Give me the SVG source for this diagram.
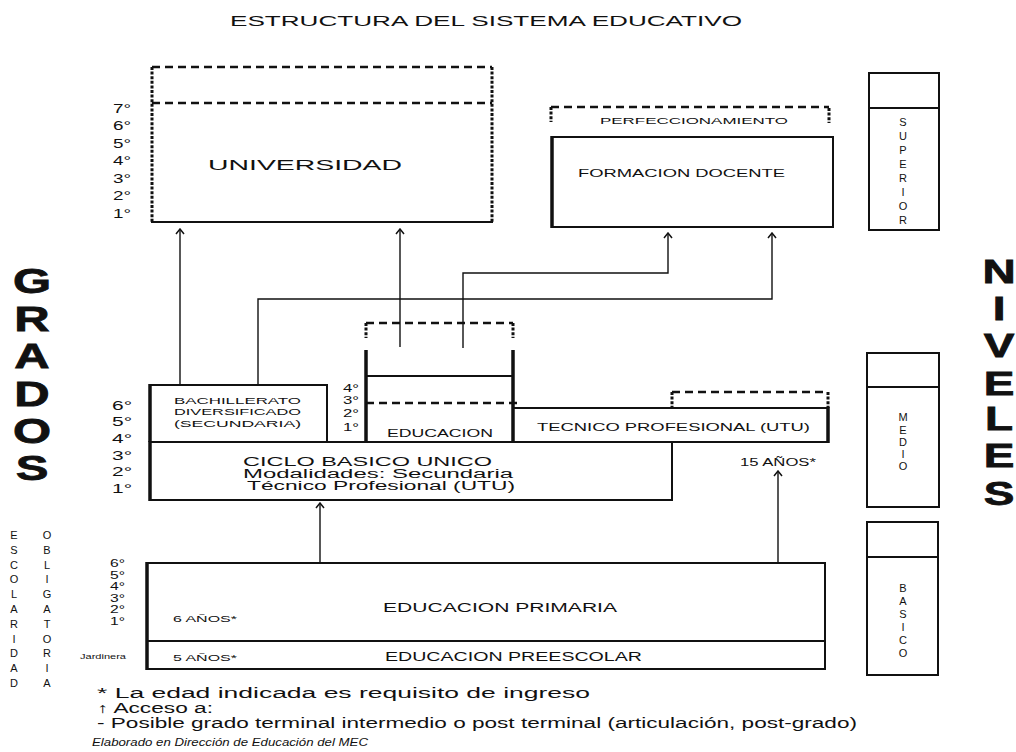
<svg xmlns="http://www.w3.org/2000/svg" width="1016" height="752" viewBox="0 0 1016 752">
<style>
.t{font-family:"Liberation Sans",Arial,sans-serif;fill:#111}
.b{fill:none;stroke:#111;stroke-width:2}
.thick{fill:none;stroke:#111;stroke-width:3.5}
.dash{fill:none;stroke:#111;stroke-width:2.5;stroke-dasharray:8 5}
.dot{fill:none;stroke:#111;stroke-width:3;stroke-dasharray:3 1.6}
.c{fill:none;stroke:#111;stroke-width:1.4}
.g{font-size:13px}
.big{font-family:"Liberation Sans",Arial,sans-serif;font-weight:bold;fill:#111;stroke:#111;stroke-width:0.8;text-anchor:middle}
.v{font-size:11px;text-anchor:middle}
</style>
<defs>
<marker id="ah" markerUnits="userSpaceOnUse" markerWidth="10" markerHeight="10" refX="9" refY="5" orient="auto" viewBox="0 0 10 10">
<path d="M4,1 L9,5 L4,9" fill="none" stroke="#111" stroke-width="1.5"/>
</marker>
</defs>
<rect width="1016" height="752" fill="#fff"/>

<text class="t" x="230" y="26" font-size="14" textLength="512" lengthAdjust="spacingAndGlyphs">ESTRUCTURA DEL SISTEMA EDUCATIVO</text>

<!-- Side labels -->
<g id="grados" transform="translate(32,0) scale(1.4,1)">
<text class="big" font-size="35"><tspan x="0" y="293">G</tspan><tspan x="0" y="331">R</tspan><tspan x="0" y="368">A</tspan><tspan x="0" y="406">D</tspan><tspan x="0" y="443">O</tspan><tspan x="0" y="480">S</tspan></text>
</g>
<g id="niveles" transform="translate(999,0) scale(1.35,1)">
<text class="big" font-size="34"><tspan x="0" y="283">N</tspan><tspan x="0" y="320">I</tspan><tspan x="0" y="357">V</tspan><tspan x="0" y="395">E</tspan><tspan x="0" y="430">L</tspan><tspan x="0" y="467">E</tspan><tspan x="0" y="505">S</tspan></text>
</g>
<g id="escolaridad-obligatoria">
<text class="t" font-size="11" text-anchor="middle"><tspan x="14" y="539">E</tspan><tspan x="14" y="554">S</tspan><tspan x="14" y="569">C</tspan><tspan x="14" y="583">O</tspan><tspan x="14" y="598">L</tspan><tspan x="14" y="613">A</tspan><tspan x="14" y="628">R</tspan><tspan x="14" y="643">I</tspan><tspan x="14" y="657">D</tspan><tspan x="14" y="672">A</tspan><tspan x="14" y="687">D</tspan></text>
<text class="t" font-size="11" text-anchor="middle"><tspan x="47" y="539">O</tspan><tspan x="47" y="554">B</tspan><tspan x="47" y="569">L</tspan><tspan x="47" y="583">I</tspan><tspan x="47" y="598">G</tspan><tspan x="47" y="613">A</tspan><tspan x="47" y="628">T</tspan><tspan x="47" y="643">O</tspan><tspan x="47" y="657">R</tspan><tspan x="47" y="672">I</tspan><tspan x="47" y="687">A</tspan></text>
</g>

<!-- Grade labels -->
<g id="grados-universidad" class="t g">
<text x="113" y="113" textLength="18" lengthAdjust="spacingAndGlyphs">7°</text>
<text x="113" y="130" textLength="18" lengthAdjust="spacingAndGlyphs">6°</text>
<text x="113" y="148" textLength="18" lengthAdjust="spacingAndGlyphs">5°</text>
<text x="113" y="165" textLength="18" lengthAdjust="spacingAndGlyphs">4°</text>
<text x="113" y="183" textLength="18" lengthAdjust="spacingAndGlyphs">3°</text>
<text x="113" y="200" textLength="18" lengthAdjust="spacingAndGlyphs">2°</text>
<text x="113" y="218" textLength="18" lengthAdjust="spacingAndGlyphs">1°</text>
</g>
<g id="grados-medio" class="t g">
<text x="112" y="410" textLength="20" lengthAdjust="spacingAndGlyphs">6°</text>
<text x="112" y="426" textLength="20" lengthAdjust="spacingAndGlyphs">5°</text>
<text x="112" y="443" textLength="20" lengthAdjust="spacingAndGlyphs">4°</text>
<text x="112" y="460" textLength="20" lengthAdjust="spacingAndGlyphs">3°</text>
<text x="112" y="476" textLength="20" lengthAdjust="spacingAndGlyphs">2°</text>
<text x="112" y="493" textLength="20" lengthAdjust="spacingAndGlyphs">1°</text>
</g>
<g id="grados-educacion" class="t" font-size="10">
<text x="343" y="392" textLength="16" lengthAdjust="spacingAndGlyphs">4°</text>
<text x="343" y="404" textLength="16" lengthAdjust="spacingAndGlyphs">3°</text>
<text x="343" y="417" textLength="16" lengthAdjust="spacingAndGlyphs">2°</text>
<text x="343" y="431" textLength="16" lengthAdjust="spacingAndGlyphs">1°</text>
</g>
<g id="grados-primaria" class="t" font-size="10">
<text x="110" y="567" textLength="15" lengthAdjust="spacingAndGlyphs">6°</text>
<text x="110" y="579" textLength="15" lengthAdjust="spacingAndGlyphs">5°</text>
<text x="110" y="590" textLength="15" lengthAdjust="spacingAndGlyphs">4°</text>
<text x="110" y="602" textLength="15" lengthAdjust="spacingAndGlyphs">3°</text>
<text x="110" y="613" textLength="15" lengthAdjust="spacingAndGlyphs">2°</text>
<text x="110" y="625" textLength="15" lengthAdjust="spacingAndGlyphs">1°</text>
<text x="80" y="659" font-size="7" textLength="46" lengthAdjust="spacingAndGlyphs">Jardinera</text>
</g>

<!-- Connectors -->
<g id="connectors">
<path class="c" d="M180,385 V229" marker-end="url(#ah)"/>
<path class="c" d="M400,347 V229" marker-end="url(#ah)"/>
<path class="c" d="M258,385 V299 H772 V233" marker-end="url(#ah)"/>
<path class="c" d="M463,348 V273 H668 V233" marker-end="url(#ah)"/>
<path class="c" d="M320,563 V503" marker-end="url(#ah)"/>
<path class="c" d="M778,563 V471" marker-end="url(#ah)"/>
</g>

<!-- Nodes -->
<g id="universidad">
<path class="dash" d="M152,67 H492"/>
<path class="dash" d="M152,103 H492"/>
<path class="dot" d="M152,67 V222"/>
<path class="dot" d="M492,67 V222"/>
<path class="b" d="M151,222 H493"/>
<text class="t" x="208" y="170" font-size="15" textLength="194" lengthAdjust="spacingAndGlyphs">UNIVERSIDAD</text>
</g>

<g id="perfeccionamiento">
<path class="dash" d="M551,107 H829"/>
<path class="dot" d="M551,107 V122"/>
<path class="dot" d="M829,108 V123"/>
<text class="t" x="600" y="124" font-size="9" textLength="188" lengthAdjust="spacingAndGlyphs">PERFECCIONAMIENTO</text>
</g>

<g id="formacion-docente">
<rect class="b" x="552" y="137" width="281" height="90"/>
<path class="thick" d="M552,136 V228"/>
<text class="t" x="578" y="177" font-size="11" textLength="207" lengthAdjust="spacingAndGlyphs">FORMACION DOCENTE</text>
</g>

<g id="bachillerato">
<rect class="b" x="150" y="385" width="177" height="57"/>
<path class="thick" d="M150,384 V442"/>
<text class="t" x="174" y="404" font-size="9.5" textLength="127" lengthAdjust="spacingAndGlyphs">BACHILLERATO</text>
<text class="t" x="174" y="415" font-size="9.5" textLength="127" lengthAdjust="spacingAndGlyphs">DIVERSIFICADO</text>
<text class="t" x="174" y="427" font-size="9.5" textLength="127" lengthAdjust="spacingAndGlyphs">(SECUNDARIA)</text>
</g>

<g id="educacion">
<path class="dash" d="M366,323 H513"/>
<path class="dot" d="M366,323 V338"/>
<path class="dot" d="M513,323 V338"/>
<path class="thick" d="M366,350 V442"/>
<path class="thick" d="M513,350 V442"/>
<path class="b" d="M366,376 H513"/>
<path class="dash" d="M366,403 H518" stroke-width="2"/>
<text class="t" x="387" y="437" font-size="11" textLength="106" lengthAdjust="spacingAndGlyphs">EDUCACION</text>
</g>

<g id="tecnico-profesional">
<path class="dash" d="M672,392 H828"/>
<path class="dot" d="M672,392 V408"/>
<path class="dot" d="M828,392 V408"/>
<rect class="b" x="513" y="408" width="315" height="34"/>
<path class="thick" d="M828,407 V443"/>
<text class="t" x="537" y="431" font-size="11" textLength="273" lengthAdjust="spacingAndGlyphs">TECNICO PROFESIONAL (UTU)</text>
</g>

<g id="ciclo-basico">
<rect class="b" x="150" y="442" width="522" height="58"/>
<path class="thick" d="M150,441 V501"/>
<text class="t" x="243" y="466" font-size="13" textLength="249" lengthAdjust="spacingAndGlyphs">CICLO BASICO UNICO</text>
<text class="t" x="243" y="478" font-size="12" textLength="270" lengthAdjust="spacingAndGlyphs">Modalidades: Secundaria</text>
<text class="t" x="247" y="490" font-size="12" textLength="268" lengthAdjust="spacingAndGlyphs">Técnico Profesional (UTU)</text>
</g>

<text id="quince-anos" class="t" x="740" y="466" font-size="10" textLength="76" lengthAdjust="spacingAndGlyphs">15 AÑOS*</text>

<g id="primaria">
<rect class="b" x="147" y="563" width="678" height="78"/>
<path class="thick" d="M147,562 V670"/>
<text class="t" x="383" y="612" font-size="12" textLength="234" lengthAdjust="spacingAndGlyphs">EDUCACION PRIMARIA</text>
<text class="t" x="173" y="622" font-size="9" textLength="64" lengthAdjust="spacingAndGlyphs">6 AÑOS*</text>
</g>

<g id="preescolar">
<rect class="b" x="147" y="641" width="678" height="28"/>
<text class="t" x="173" y="661" font-size="9" textLength="64" lengthAdjust="spacingAndGlyphs">5 AÑOS*</text>
<text class="t" x="385" y="661" font-size="12" textLength="257" lengthAdjust="spacingAndGlyphs">EDUCACION PREESCOLAR</text>
</g>

<g id="nivel-superior">
<rect class="b" x="869" y="73" width="70" height="157"/>
<path class="b" d="M869,108 H939"/>
<text class="t v"><tspan x="903" y="126">S</tspan><tspan x="903" y="140">U</tspan><tspan x="903" y="154">P</tspan><tspan x="903" y="168">E</tspan><tspan x="903" y="182">R</tspan><tspan x="903" y="196">I</tspan><tspan x="903" y="210">O</tspan><tspan x="903" y="224">R</tspan></text>
</g>
<g id="nivel-medio">
<rect class="b" x="867" y="353" width="72" height="154"/>
<path class="b" d="M867,387 H939"/>
<text class="t v"><tspan x="903" y="421">M</tspan><tspan x="903" y="434">E</tspan><tspan x="903" y="446">D</tspan><tspan x="903" y="458">I</tspan><tspan x="903" y="470">O</tspan></text>
</g>
<g id="nivel-basico">
<rect class="b" x="867" y="522" width="71" height="153"/>
<path class="b" d="M867,557 H938"/>
<text class="t v"><tspan x="903" y="592">B</tspan><tspan x="903" y="605">A</tspan><tspan x="903" y="618">S</tspan><tspan x="903" y="631">I</tspan><tspan x="903" y="644">C</tspan><tspan x="903" y="657">O</tspan></text>
</g>

<g id="leyenda" class="t">
<text x="97" y="698" font-size="14" textLength="493" lengthAdjust="spacingAndGlyphs">* La edad indicada es requisito de ingreso</text>
<text x="97" y="713" font-size="14" textLength="116" lengthAdjust="spacingAndGlyphs">↑ Acceso a:</text>
<text x="97" y="728" font-size="14" textLength="760" lengthAdjust="spacingAndGlyphs">- Posible grado terminal intermedio o post terminal (articulación, post-grado)</text>
<text x="92" y="746" font-size="11" font-style="italic" textLength="276" lengthAdjust="spacingAndGlyphs">Elaborado en Dirección de Educación del MEC</text>
</g>
</svg>
